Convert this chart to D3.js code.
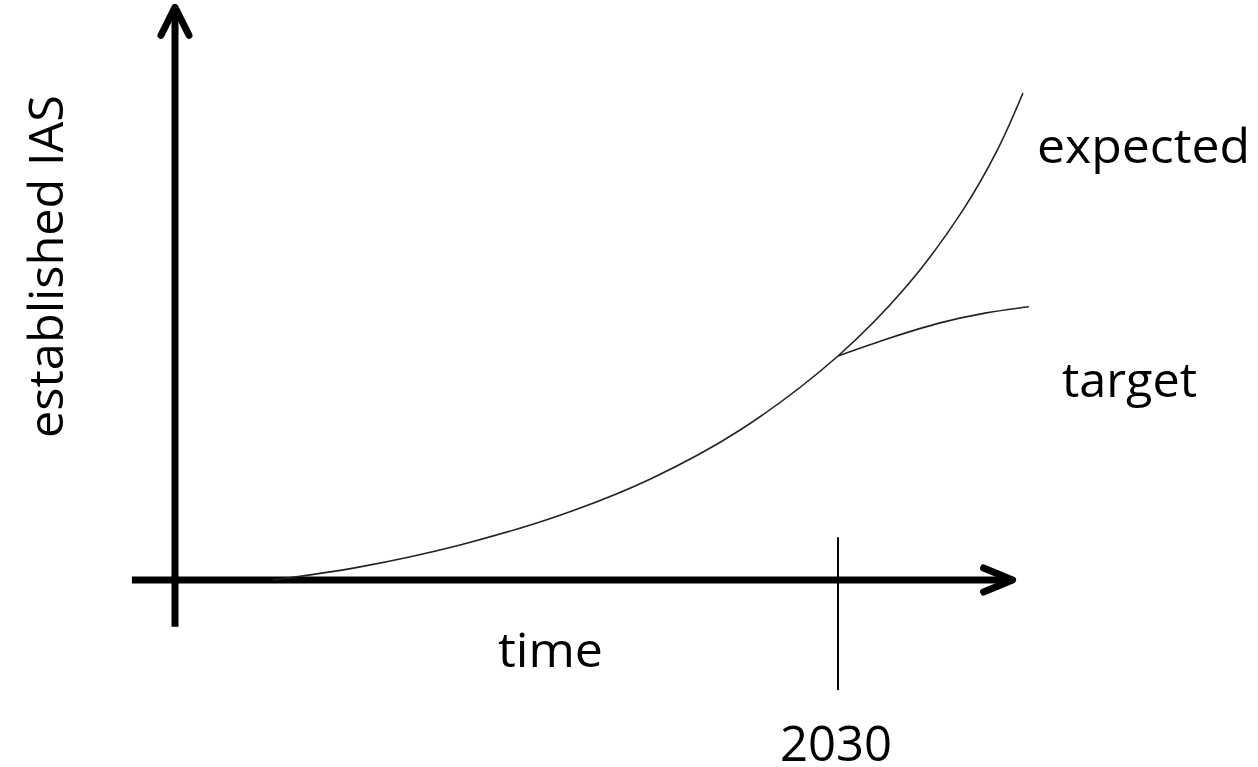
<!DOCTYPE html>
<html>
<head>
<meta charset="utf-8">
<script src="https://cdn.jsdelivr.net/npm/d3@7"></script>
<style>
  html, body { margin: 0; padding: 0; background: #fff; }
  svg { display: block; }
  text { font-family: "Open Sans", "Noto Sans", sans-serif; fill: #000; }
</style>
</head>
<body>
<svg id="chart" width="1258" height="767"></svg>
<script>
// ---- data ----
const expectedYears  = [2004.43, 2008.37, 2012.90, 2017.42, 2021.49, 2025.57, 2030.0, 2033.12, 2035.66, 2037.19, 2038.37];
const expectedValues = [0,       2.7,     7.2,     13.3,    20.7,    30.8,    46.0,   60.4,    76.0,    88.1,    100];
const targetYears    = [2030.0, 2032.35, 2034.62, 2036.65, 2038.64];
const targetValues   = [46.0,   49.7,    52.8,    54.8,    56.1];
const milestoneYear  = 2030;
const milestoneSpan  = [-22.6, 8.8];      // value range of the 2030 marker line
const xAxisSpan      = [1998.05, 2037.9]; // time extent of the horizontal axis
const yAxisSpan      = [-9.6, 117.6];     // value extent of the vertical axis
const seriesLabels   = ["expected", "target"];
const xTitle = "time", yTitle = "established IAS", milestoneLabel = "2030";

// ---- scales ----
const x = d3.scaleLinear().domain([2000, 2030]).range([175, 838]);
const y = d3.scaleLinear().domain([0, 100]).range([580, 93]);

const svg = d3.select("#chart");

// ---- axes (arrows) ----
const axes = svg.append("g")
  .attr("stroke", "#000").attr("stroke-width", 7)
  .attr("stroke-linecap", "round").attr("stroke-linejoin", "round")
  .attr("fill", "none");

const x0 = x(xAxisSpan[0]), x1 = x(xAxisSpan[1]), yy0 = y(0);
const y0 = y(yAxisSpan[0]), y1 = y(yAxisSpan[1]), xx0 = x(2000);

axes.append("line").attr("x1", x0).attr("y1", yy0).attr("x2", x1 - 3).attr("y2", yy0).attr("stroke-linecap", "butt");
axes.append("path").attr("d", `M${x1 - 29},${yy0 - 12} L${x1},${yy0} L${x1 - 29},${yy0 + 12}`);
axes.append("line").attr("x1", xx0).attr("y1", y0).attr("x2", xx0).attr("y2", y1 + 3).attr("stroke-linecap", "butt");
axes.append("path").attr("d", `M${xx0 - 14},${y1 + 28} L${xx0},${y1} L${xx0 + 14},${y1 + 28}`);

// ---- 2030 marker ----
svg.append("line")
  .attr("x1", x(milestoneYear)).attr("x2", x(milestoneYear))
  .attr("y1", y(milestoneSpan[1])).attr("y2", y(milestoneSpan[0]))
  .attr("stroke", "#000").attr("stroke-width", 2);

// ---- curves ----
const line = d3.line().x(d => x(d[0])).y(d => y(d[1])).curve(d3.curveCatmullRom.alpha(0.5));
const expected = expectedYears.map((t, i) => [t, expectedValues[i]]);
const target = targetYears.map((t, i) => [t, targetValues[i]]);

svg.append("path").datum(expected).attr("d", line)
  .attr("fill", "none").attr("stroke", "#222").attr("stroke-width", 1.6);
svg.append("path").datum(target).attr("d", line)
  .attr("fill", "none").attr("stroke", "#222").attr("stroke-width", 1.6);

// ---- labels ----
function label(txt, px, py, size, width, anchor, rotate) {
  const t = svg.append("text").text(txt)
    .attr("font-size", size)
    .attr("text-anchor", anchor || "start");
  if (width) t.attr("textLength", width).attr("lengthAdjust", "spacingAndGlyphs");
  if (rotate) t.attr("transform", `translate(${px},${py}) rotate(${rotate})`);
  else t.attr("x", px).attr("y", py);
  return t;
}
label(seriesLabels[0], 1037, 163, 48, 213);
label(seriesLabels[1], 1062, 397, 48, 135);
label(xTitle, 498, 667, 48, 105);
label(milestoneLabel, 780, 761, 50, 112);
label(yTitle, 63, 438, 48, 343, "start", -90);
</script>
</body>
</html>
